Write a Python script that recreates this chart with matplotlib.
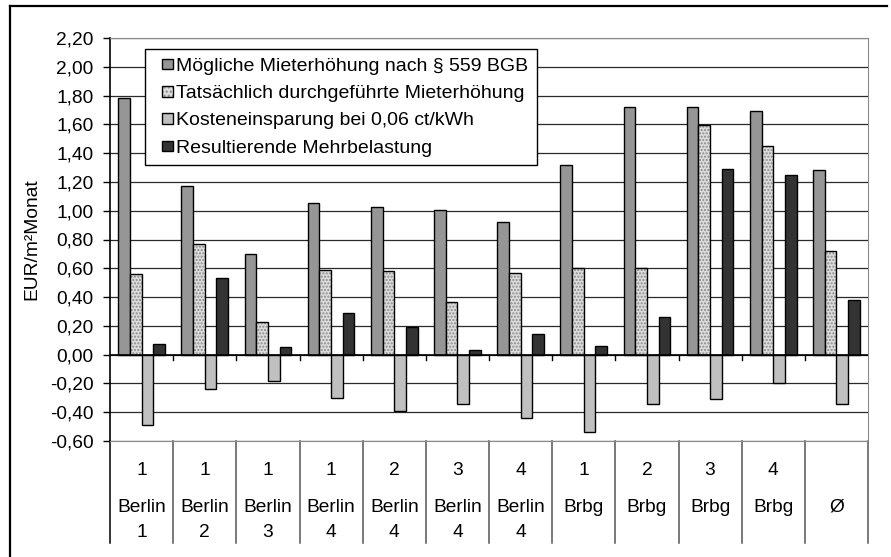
import matplotlib
matplotlib.use("Agg")
import matplotlib.pyplot as plt
import numpy as np
from matplotlib.patches import Patch, Rectangle
from matplotlib.legend_handler import HandlerTuple, HandlerPatch
from matplotlib.transforms import blended_transform_factory

plt.rcParams['font.family'] = ['Liberation Sans', 'DejaVu Sans']

# categories: top line (number), middle line (place), bottom line
cat_num = ["1", "1", "1", "1", "2", "3", "4", "1", "2", "3", "4", ""]
cat_place = ["Berlin", "Berlin", "Berlin", "Berlin", "Berlin", "Berlin", "Berlin",
             "Brbg", "Brbg", "Brbg", "Brbg", "Ø"]
cat_sub = ["1", "2", "3", "4", "4", "4", "4", "", "", "", "", ""]

labels = ["Mögliche Mieterhöhung nach § 559 BGB",
          "Tatsächlich durchgeführte Mieterhöhung",
          "Kosteneinsparung bei 0,06 ct/kWh",
          "Resultierende Mehrbelastung"]

moeglich = [1.78, 1.175, 0.70, 1.054, 1.026, 1.007, 0.92, 1.32, 1.72, 1.72, 1.69, 1.28]
tatsaechlich = [0.557, 0.77, 0.228, 0.59, 0.58, 0.367, 0.566, 0.60, 0.60, 1.595, 1.45, 0.72]
einsparung = [-0.487, -0.24, -0.18, -0.30, -0.39, -0.34, -0.44, -0.54, -0.34, -0.31, -0.20, -0.34]
mehrbelastung = [0.074, 0.53, 0.05, 0.29, 0.195, 0.035, 0.14, 0.063, 0.26, 1.29, 1.25, 0.38]

yticks = np.arange(-0.6, 2.21, 0.2)

fs = 13.8
W, H = 891, 557
fig = plt.figure(figsize=(W / 100, H / 100), dpi=100)
ax = fig.add_axes([110 / W, 1 - 441 / H, (868 - 110) / W, (441 - 38) / H])

n = len(moeglich)
x = np.arange(n) + 0.5
bw = 0.185

c_moeg = "#969696"
c_tats = "#dcdcdc"
c_eins = "#c0c0c0"
c_mehr = "#333333"

ax.bar(x - 1.5 * bw, moeglich, bw, color=c_moeg, edgecolor="black", linewidth=1, zorder=3)
ax.bar(x - 0.5 * bw, tatsaechlich, bw, color=c_tats, edgecolor="#8a8a8a", hatch=".....",
       linewidth=0, zorder=3)
ax.bar(x - 0.5 * bw, tatsaechlich, bw, facecolor="none", edgecolor="black", linewidth=1, zorder=4)
ax.bar(x + 0.5 * bw, einsparung, bw, color=c_eins, edgecolor="black", linewidth=1, zorder=3)
ax.bar(x + 1.5 * bw, mehrbelastung, bw, color=c_mehr, edgecolor="black", linewidth=1, zorder=3)

ax.set_xlim(0, n)
ax.set_ylim(-0.6, 2.2)
ax.set_yticks(yticks)
ax.set_yticklabels([("%.2f" % v).replace(".", ",").replace("-0,00", "0,00") for v in yticks],
                   fontsize=fs)
ax.tick_params(axis="y", direction="out", length=5, width=1, pad=7)
ax.set_xticks([])
ax.grid(axis="y", color="#2a2a2a", linewidth=0.9, zorder=1)
ax.axhline(0, color="black", linewidth=1.2, zorder=5)

for s in ["top", "right", "bottom"]:
    ax.spines[s].set_color("#8a8a8a")
ax.spines["left"].set_color("black")
ax.spines["left"].set_linewidth(1.2)

# small ticks on zero line between categories
for b in range(1, n):
    ax.plot([b, b], [0, -0.035], color="black", linewidth=1, zorder=5)

# category table below the plot
tr = blended_transform_factory(ax.transData, ax.transAxes)
for b in range(0, n + 1):
    ax.plot([b, b], [0, -0.253], transform=tr, color="black" if b == 0 else "#555555",
            linewidth=1.1, clip_on=False)
for i in range(n):
    if cat_num[i]:
        ax.text(x[i], -0.072, cat_num[i], transform=tr, ha="center", va="center", fontsize=fs)
    ax.text(x[i], -0.164, cat_place[i], transform=tr, ha="center", va="center", fontsize=fs)
    if cat_sub[i]:
        ax.text(x[i], -0.226, cat_sub[i], transform=tr, ha="center", va="center", fontsize=fs)

ax.set_ylabel("EUR/m²Monat", fontsize=fs)
ax.yaxis.set_label_coords(-0.092, 0.5)


# legend: small squares at the right end of the handle box
def small_square(legend, orig_handle, xdescent, ydescent, width, height, fontsize):
    s = 0.54 * fontsize
    return Rectangle((-xdescent + width - s, -ydescent + (height - s) / 2), s, s)


h1 = Patch(facecolor=c_moeg, edgecolor="black")
h2 = (Patch(facecolor=c_tats, edgecolor="#8a8a8a", hatch="....", linewidth=0),
      Patch(facecolor="none", edgecolor="black"))
h3 = Patch(facecolor=c_eins, edgecolor="black")
h4 = Patch(facecolor=c_mehr, edgecolor="black")
leg = ax.legend([h1, h2, h3, h4], labels, loc="upper left",
                bbox_to_anchor=(145 / W, 1 - 49 / H), bbox_transform=fig.transFigure,
                fontsize=14, frameon=True, fancybox=False, framealpha=1, edgecolor="black",
                handlelength=1.0, handleheight=0.7, handletextpad=0.2, labelspacing=0.5,
                borderpad=0.42, borderaxespad=0,
                handler_map={tuple: HandlerTuple(ndivide=1, pad=0),
                             Patch: HandlerPatch(patch_func=small_square)})
leg.get_frame().set_linewidth(1)
leg.set_zorder(10)

# outer frame lines (top and left)
fig.add_artist(plt.Line2D([10 / W, 887 / W], [1 - 6 / H, 1 - 6 / H], color="black",
                          linewidth=1.6, transform=fig.transFigure))
fig.add_artist(plt.Line2D([10 / W, 10 / W], [1 - 6 / H, 0], color="black",
                          linewidth=1.6, transform=fig.transFigure))

fig.savefig("out.png", dpi=100)
